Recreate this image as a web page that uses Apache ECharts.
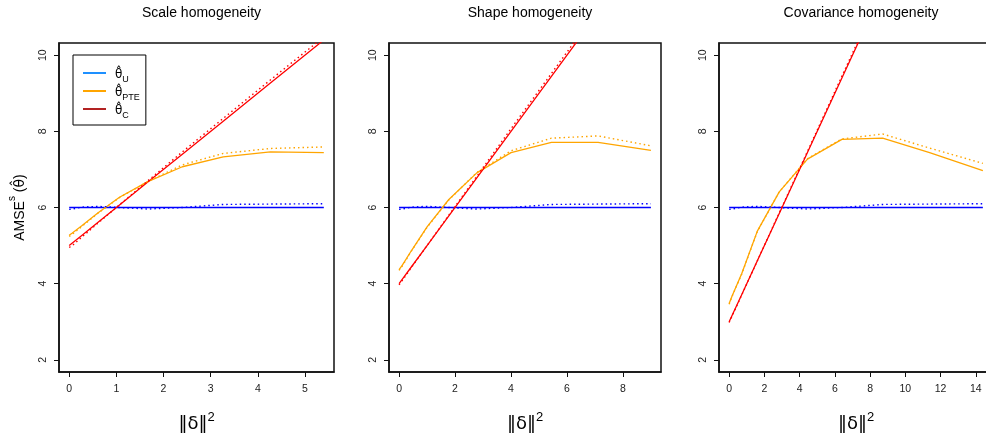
<!DOCTYPE html>
<html>
<head>
<meta charset="utf-8">
<script src="https://cdn.jsdelivr.net/npm/echarts@6/dist/echarts.min.js"></script>
<style>
html,body{margin:0;padding:0;background:#fff;}
#chart{width:986px;height:441px;}
</style>
</head>
<body>
<div id="chart"></div>
<script>
// ---------- data ----------
const panelTitles = ['Scale homogeneity', 'Shape homogeneity', 'Covariance homogeneity'];
const xTicks1 = [0, 1, 2, 3, 4, 5];
const xTicks2 = [0, 2, 4, 6, 8];
const xTicks3 = [0, 2, 4, 6, 8, 10, 12, 14];
const yTicks = [2, 4, 6, 8, 10];

const xGrid1 = [0, 0.067, 0.267, 0.6, 1.067, 1.667, 2.4, 3.267, 4.267, 5.4];
const xGrid2 = [0, 0.111, 0.444, 1, 1.778, 2.778, 4, 5.444, 7.111, 9];
const xGrid3 = [0, 0.178, 0.711, 1.6, 2.844, 4.444, 6.4, 8.711, 11.378, 14.4];

// Panel 1: Scale homogeneity
const U_solid1   = [6, 6, 6, 6, 6, 6, 6, 6, 6, 6];
const U_dot1     = [5.95, 5.96, 6.01, 6.03, 6.0, 5.96, 6.0, 6.08, 6.09, 6.1];
const PTE_solid1 = [5.27, 5.33, 5.52, 5.85, 6.27, 6.68, 7.07, 7.33, 7.46, 7.44];
const PTE_dot1   = [5.24, 5.30, 5.50, 5.84, 6.26, 6.68, 7.12, 7.42, 7.55, 7.59];
const C_solid1   = [5, 5.067, 5.267, 5.6, 6.067, 6.667, 7.4, 8.267, 9.267, 10.4];
const C_dot1     = [4.95, 5.0, 5.22, 5.58, 6.07, 6.7, 7.46, 8.34, 9.35, 10.48];

// Panel 2: Shape homogeneity
const U_solid2   = [6, 6, 6, 6, 6, 6, 6, 6, 6, 6];
const U_dot2     = [5.95, 5.96, 6.01, 6.03, 6.0, 5.96, 6.0, 6.08, 6.09, 6.1];
const PTE_solid2 = [4.37, 4.48, 4.87, 5.49, 6.21, 6.91, 7.44, 7.71, 7.71, 7.5];
const PTE_dot2   = [4.35, 4.46, 4.86, 5.48, 6.2, 6.92, 7.49, 7.82, 7.88, 7.62];
const C_solid2   = [4, 4.111, 4.444, 5, 5.778, 6.778, 8, 9.444, 11.111, 13];
const C_dot2     = [3.97, 4.08, 4.43, 5.0, 5.8, 6.82, 8.07, 9.52, 11.2, 13.1];

// Panel 3: Covariance homogeneity
const U_solid3   = [6, 6, 6, 6, 6, 6, 6, 6, 6, 6];
const U_dot3     = [5.95, 5.96, 6.01, 6.03, 6.0, 5.96, 6.0, 6.08, 6.09, 6.1];
const PTE_solid3 = [3.48, 3.69, 4.26, 5.38, 6.41, 7.27, 7.79, 7.82, 7.44, 6.97];
const PTE_dot3   = [3.46, 3.68, 4.25, 5.37, 6.41, 7.28, 7.8, 7.93, 7.56, 7.16];
const C_solid3   = [3, 3.178, 3.711, 4.6, 5.844, 7.444, 9.4, 11.711, 14.378, 17.4];
const C_dot3     = [2.98, 3.16, 3.7, 4.6, 5.86, 7.47, 9.45, 11.77, 14.45, 17.5];

// ---------- layout ----------
const FONT = 'Liberation Sans, Arial, sans-serif';
const grids = [
  {left: 59, top: 43, width: 275, height: 329},
  {left: 389, top: 43, width: 272, height: 329},
  {left: 719, top: 43, width: 274, height: 329}
];
const titleCenters = [196.5, 525, 856];
const xRanges = [[-0.216, 5.616], [-0.36, 9.36], [-0.576, 14.976]];
const xTickSets = [xTicks1, xTicks2, xTicks3];
const xGrids = [xGrid1, xGrid2, xGrid3];
const panels = [
  [U_solid1, U_dot1, PTE_solid1, PTE_dot1, C_solid1, C_dot1],
  [U_solid2, U_dot2, PTE_solid2, PTE_dot2, C_solid2, C_dot2],
  [U_solid3, U_dot3, PTE_solid3, PTE_dot3, C_solid3, C_dot3]
];
const lineColors = ['#0000ff', '#0000ff', '#ffa500', '#ffa500', '#ff0000', '#ff0000'];
const legendColors = {U: '#1e90ff', PTE: '#ffa500', C: '#b22222'};

const zip = (xs, ys) => xs.map((x, i) => [x, ys[i]]);

const option = {
  animation: false,
  backgroundColor: '#fff',
  textStyle: {fontFamily: FONT},
  title: panelTitles.map((t, i) => ({
    text: t,
    left: titleCenters[i],
    top: 1,
    textAlign: 'center',
    textStyle: {fontFamily: FONT, fontSize: 14, fontWeight: 'normal', color: '#000'}
  })),
  grid: grids.map(g => Object.assign({
    show: true, borderColor: '#111', borderWidth: 1.5, backgroundColor: 'transparent',
    outerBoundsMode: 'none', containLabel: false
  }, g)),
  xAxis: grids.map((g, i) => ({
    type: 'value', gridIndex: i,
    min: xRanges[i][0], max: xRanges[i][1],
    position: 'bottom',
    splitLine: {show: false},
    axisLine: {show: true, onZero: false, lineStyle: {color: '#111', width: 1.5}},
    axisTick: {show: true, inside: false, customValues: xTickSets[i], length: 5, lineStyle: {color: '#111', width: 1}},
    axisLabel: {customValues: xTickSets[i], margin: 12, fontSize: 10.5, color: '#222', fontFamily: FONT},
    name: '{n|‖δ‖}{s|2}',
    nameLocation: 'middle',
    nameGap: 39,
    nameTextStyle: {
      rich: {
        n: {fontSize: 18, fontFamily: 'DejaVu Sans', color: '#000', lineHeight: 22, verticalAlign: 'bottom'},
        s: {fontSize: 13, fontFamily: FONT, color: '#000', lineHeight: 22, verticalAlign: 'top'}
      }
    }
  })),
  yAxis: grids.map((g, i) => ({
    type: 'value', gridIndex: i,
    min: 1.68, max: 10.32,
    position: 'left',
    splitLine: {show: false},
    axisLine: {show: true, onZero: false, lineStyle: {color: '#111', width: 1.5}},
    axisTick: {show: true, inside: false, customValues: yTicks, length: 5, lineStyle: {color: '#111', width: 1}},
    axisLabel: {customValues: yTicks, rotate: 90, margin: 10, fontSize: 10.5, color: '#222', fontFamily: FONT},
    name: i === 0 ? '{n|AMSE}{s|s}{n| (}{t|θ̂}{n|)}' : '',
    nameLocation: 'middle',
    nameRotate: 90,
    nameGap: 32,
    nameTextStyle: {
      rich: {
        n: {fontSize: 14, fontFamily: FONT, color: '#000', lineHeight: 20, verticalAlign: 'bottom'},
        t: {fontSize: 14, fontFamily: 'DejaVu Sans', color: '#000', lineHeight: 20, verticalAlign: 'bottom'},
        s: {fontSize: 10, fontFamily: FONT, color: '#000', lineHeight: 20, verticalAlign: 'top'}
      }
    }
  })),
  legend: {
    left: 73, top: 55,
    orient: 'vertical',
    padding: [14, 6, 5, 10],
    itemGap: 3,
    icon: 'rect',
    itemWidth: 23, itemHeight: 2,
    borderColor: '#000', borderWidth: 1,
    data: ['U', 'PTE', 'C'],
    formatter: n => '{t|θ̂}{s|' + n + '}',
    textStyle: {
      rich: {
        t: {fontSize: 12, fontFamily: 'DejaVu Sans', color: '#000', lineHeight: 16, verticalAlign: 'bottom', padding: [0, 0, 0, 4]},
        s: {fontSize: 9, fontFamily: FONT, color: '#000', lineHeight: 16, verticalAlign: 'bottom', padding: [0, 0, -3, 0]}
      }
    }
  },
  series: []
};

panels.forEach((arrs, p) => {
  arrs.forEach((ys, k) => {
    const dotted = k % 2 === 1;
    option.series.push({
      type: 'line',
      xAxisIndex: p, yAxisIndex: p,
      data: zip(xGrids[p], ys),
      symbol: 'none',
      clip: true,
      silent: true,
      z: dotted ? 3 : 2,
      lineStyle: {color: lineColors[k], width: dotted ? 1.4 : 1.3, type: dotted ? [1.5, 3] : 'solid'}
    });
  });
});
// legend entries (no data points)
['U', 'PTE', 'C'].forEach(n => {
  option.series.push({
    type: 'line', name: n, xAxisIndex: 0, yAxisIndex: 0, data: [],
    symbol: 'none', color: legendColors[n],
    itemStyle: {color: legendColors[n]},
    lineStyle: {color: legendColors[n], width: 2}
  });
});

const chart = echarts.init(document.getElementById('chart'), null, {renderer: 'canvas'});
chart.setOption(option);
</script>
</body>
</html>
